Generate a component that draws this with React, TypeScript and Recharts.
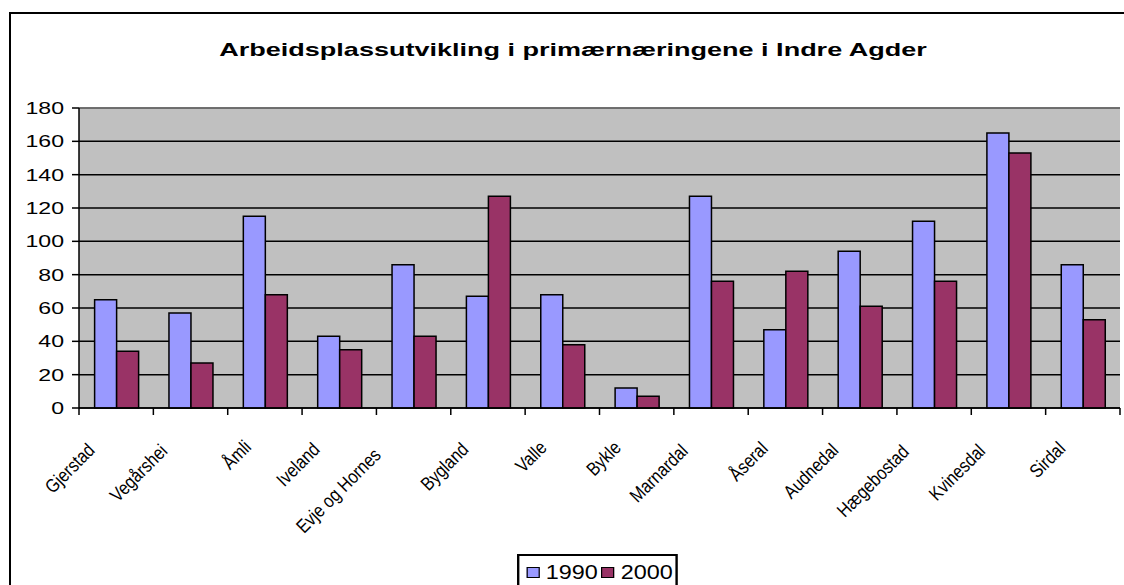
import React from "react"
import {
    BarChart, Bar, XAxis, YAxis, CartesianGrid, Legend, ReferenceLine
} from "recharts"

const KOMMUNER = [
    "Gjerstad", "Vegårshei", "Åmli", "Iveland", "Evje og Hornes", "Bygland", "Valle",
    "Bykle", "Marnardal", "Åseral", "Audnedal", "Hægebostad", "Kvinesdal", "Sirdal",
]
const AAR_1990 = [65, 57, 115, 43, 86, 67, 68, 12, 127, 47, 94, 112, 165, 86]
const AAR_2000 = [34, 27, 68, 35, 43, 127, 38, 7, 76, 82, 61, 76, 153, 53]
const Y_TICKS = [0, 20, 40, 60, 80, 100, 120, 140, 160, 180]

const TITLE = "Arbeidsplassutvikling i primærnæringene i Indre Agder"
const FONT = "'Liberation Sans', Arial, sans-serif"

const W = 1124
const H = 585
const Y_AXIS_W = 79
const M = { top: 108, right: 4, bottom: 0, left: 0 }
const PLOT_W = W - Y_AXIS_W - M.left - M.right

const data = KOMMUNER.map((k, i) => ({ kommune: k, "1990": AAR_1990[i], "2000": AAR_2000[i] }))

function YTick({ x, y, payload }: any) {
    return (
        <g transform={`translate(${x},${y})`}>
            <text x={0} y={0} dy="0.36em" textAnchor="end" transform="scale(1.4,1)"
                fontSize={16.5} fontFamily={FONT} fill="#000">
                {payload.value}
            </text>
        </g>
    )
}

function XTick({ x, y, payload, index }: any) {
    const bw = PLOT_W / KOMMUNER.length
    const n = String(payload.value).length
    // excel puts longer rotated labels a bit further left / down
    const ax = x - (5 + 1.9 * n)
    const ay = y + 37 + 0.8 * n
    return (
        <g>
            <line x1={x - bw / 2} y1={y} x2={x - bw / 2} y2={y + 7} stroke="#000" strokeWidth={1.5} />
            {index === KOMMUNER.length - 1 && (
                <line x1={x + bw / 2} y1={y} x2={x + bw / 2} y2={y + 7} stroke="#000" strokeWidth={1.5} />
            )}
            <text transform={`translate(${ax},${ay}) rotate(-45) scale(0.85,1)`} textAnchor="end"
                fontSize={19} fontFamily={FONT} fill="#000">
                {payload.value}
            </text>
        </g>
    )
}

function LegendBox({ payload }: any) {
    return (
        <div style={{
            transform: "scaleX(1.2)", transformOrigin: "0 0",
            width: 134, height: 36, boxSizing: "border-box",
            border: "2px solid #000", background: "#fff",
            display: "flex", alignItems: "center", paddingLeft: 6,
            fontFamily: FONT, fontSize: 19.5, color: "#000",
        }}>
            {(payload || []).map((p: any, i: number) => (
                <div key={p.value} style={{ display: "flex", alignItems: "center", marginLeft: i ? 3 : 0 }}>
                    <span style={{
                        display: "inline-block", width: 11, height: 11, boxSizing: "border-box",
                        background: p.color, border: "1.5px solid #000", marginRight: 5,
                    }} />
                    <span style={{ lineHeight: "20px" }}>{p.value}</span>
                </div>
            ))}
        </div>
    )
}

export default function App() {
    return (
        <div style={{ position: "fixed", left: 0, top: 0, width: W, height: H, overflow: "hidden", background: "#fff" }}>
            <div style={{
                position: "absolute", left: 9, top: 12, width: 1140, height: 620,
                border: "2px solid #000", boxSizing: "border-box",
            }} />
            <div style={{
                position: "absolute", left: 173, top: 40, width: 800, textAlign: "center",
                fontFamily: FONT, fontWeight: "bold", fontSize: 18.5, lineHeight: "20px",
                transform: "scaleX(1.46)", transformOrigin: "50% 50%", whiteSpace: "nowrap",
            }}>
                {TITLE}
            </div>
            <div style={{ position: "absolute", left: 0, top: 0 }}>
                <BarChart width={W} height={H} data={data} margin={M} barCategoryGap="21%" barGap={0}>
                    <CartesianGrid vertical={false} stroke="#000" strokeWidth={1.5} fill="#C0C0C0" fillOpacity={1} />
                    <XAxis dataKey="kommune" interval={0} height={H - 408} tickSize={0} tickMargin={0}
                        tickLine={false} axisLine={{ stroke: "#000", strokeWidth: 1.5 }} tick={<XTick />} />
                    <YAxis width={Y_AXIS_W} domain={[0, 180]} ticks={Y_TICKS} tickSize={7} tickMargin={8}
                        axisLine={{ stroke: "#000", strokeWidth: 1.5 }} tickLine={{ stroke: "#000", strokeWidth: 1.5 }}
                        tick={<YTick />} />
                    <YAxis yAxisId="right" orientation="right" width={0} domain={[0, 180]} tick={false}
                        tickLine={false} axisLine={{ stroke: "#808080", strokeWidth: 1.5 }} />
                    <ReferenceLine y={180} stroke="#808080" strokeWidth={1.5} />
                    <Legend layout="horizontal" align="center" verticalAlign="middle"
                        wrapperStyle={{ left: 517, top: 554, width: "auto", height: "auto" }}
                        content={<LegendBox />} />
                    <Bar dataKey="1990" fill="#9999FF" stroke="#000" strokeWidth={1.5} isAnimationActive={false} />
                    <Bar dataKey="2000" fill="#993366" stroke="#000" strokeWidth={1.5} isAnimationActive={false} />
                </BarChart>
            </div>
        </div>
    )
}
